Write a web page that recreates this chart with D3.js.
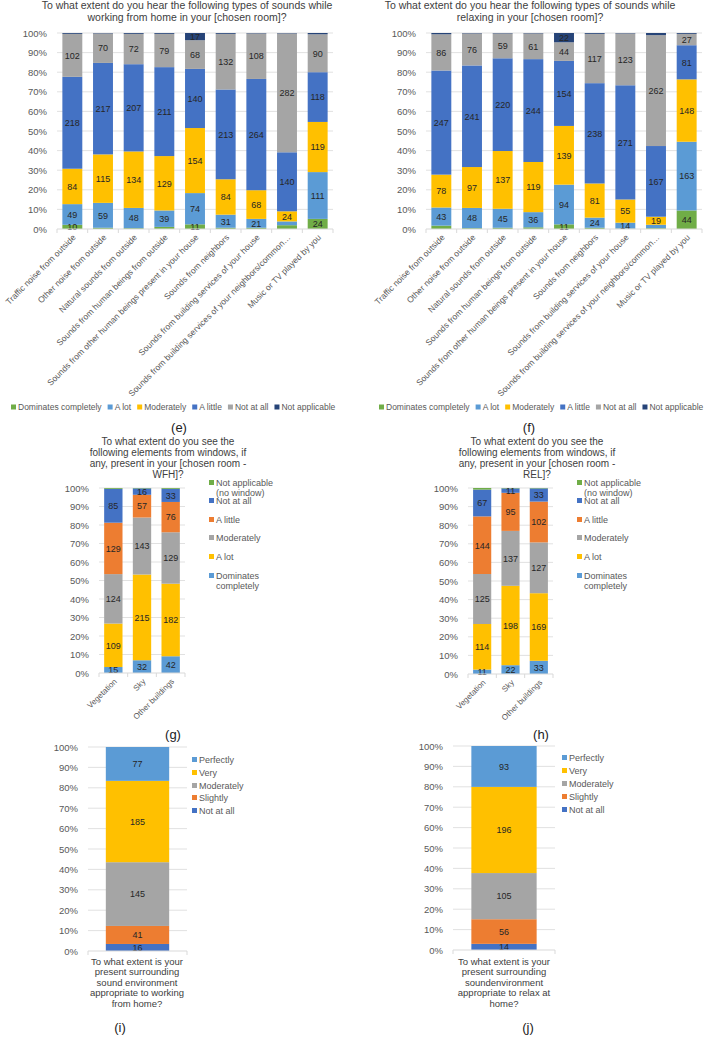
<!DOCTYPE html>
<html lang="en">
<head>
<meta charset="UTF-8">
<title>Sound environment at home</title>
<script src="https://cdn.jsdelivr.net/npm/d3@7"></script>
<style>
  body { margin: 0; background: #fff; }
  svg text { font-family: "Liberation Sans", Arial, sans-serif; }
</style>
</head>
<body>
<script>
// ---- data ----
var soundCats = ["Traffic noise from outside", "Other noise from outside", "Natural sounds from outside",
  "Sounds from human beings from outside", "Sounds from other human beings present in your house",
  "Sounds from neighbors", "Sounds from building services of your house",
  "Sounds from building services of your neighbors/common\u2026", "Music or TV played by you"];
var hearLevels = ["Dominates completely", "A lot", "Moderately", "A little", "Not at all", "Not applicable"];

// (e) working from home
var wfhDominates     = [10, 3, 2, 5, 11, 3, 3, 9, 24];
var wfhALot          = [49, 59, 48, 39, 74, 31, 21, 9, 111];
var wfhModerately    = [84, 115, 134, 129, 154, 84, 68, 24, 119];
var wfhALittle       = [218, 217, 207, 211, 140, 213, 264, 140, 118];
var wfhNotAtAll      = [102, 70, 72, 79, 68, 132, 108, 282, 90];
var wfhNotApplicable = [2, 1, 2, 2, 17, 2, 1, 1, 3];

// (f) relaxing
var relDominates     = [8, 2, 3, 4, 11, 3, 1, 2, 44];
var relALot          = [43, 48, 45, 36, 94, 24, 14, 8, 163];
var relModerately    = [78, 97, 137, 119, 139, 81, 55, 19, 148];
var relALittle       = [247, 241, 220, 244, 154, 238, 271, 167, 81];
var relNotAtAll      = [86, 76, 59, 61, 44, 117, 123, 262, 27];
var relNotApplicable = [3, 1, 1, 1, 22, 2, 1, 5, 2];

// (g)/(h) elements seen from windows
var seeCats = ["Vegetation", "Sky", "Other buildings"];
var seeLevels = ["Dominates completely", "A lot", "Moderately", "A little", "Not at all", "Not applicable (no window)"];
var seeWfhDominates  = [15, 32, 42];
var seeWfhALot       = [109, 215, 182];
var seeWfhModerately = [124, 143, 129];
var seeWfhALittle    = [129, 57, 76];
var seeWfhNotAtAll   = [85, 16, 33];
var seeWfhNoWindow   = [2, 1, 2];
var seeRelDominates  = [11, 22, 33];
var seeRelALot       = [114, 198, 169];
var seeRelModerately = [125, 137, 127];
var seeRelALittle    = [144, 95, 102];
var seeRelNotAtAll   = [67, 11, 33];
var seeRelNoWindow   = [4, 1, 1];

// (i)/(j) appropriateness
var apprLevels = ["Not at all", "Slightly", "Moderately", "Very", "Perfectly"];
var apprWfh = [16, 41, 145, 185, 77];
var apprRel = [14, 56, 105, 196, 93];

var pctTicks = d3.range(0, 1.01, 0.1);

// ---- colours ----
var cGreen = "#70AD47", cLight = "#5B9BD5", cGold = "#FFC000", cBlue = "#4472C4",
    cGray = "#A5A5A5", cNavy = "#264478", cOrange = "#ED7D31";

var svg = d3.select("body").append("svg")
  .attr("width", 708).attr("height", 1037);

function stackPanel(cfg) {
  var g = svg.append("g");
  var keys = cfg.series.map(function (s) { return s.name; });
  var rows = cfg.cats.map(function (c, i) {
    var r = { cat: c };
    cfg.series.forEach(function (s) { r[s.name] = s.vals[i]; });
    return r;
  });
  var layers = d3.stack().keys(keys).offset(d3.stackOffsetExpand)(rows);

  var x = d3.scaleBand().domain(cfg.cats).range([cfg.left, cfg.right])
    .paddingInner(cfg.pad).paddingOuter(cfg.pad / 2);
  var y = d3.scaleLinear().domain([0, 1]).range([cfg.bottom, cfg.top]);

  // gridlines
  g.selectAll("line.grid").data(pctTicks.slice(1)).enter().append("line")
    .attr("x1", cfg.left).attr("x2", cfg.right)
    .attr("y1", function (d) { return y(d); }).attr("y2", function (d) { return y(d); })
    .attr("stroke", "#D9D9D9").attr("stroke-width", 0.8);

  // y axis labels
  var ya = g.append("g").attr("transform", "translate(" + (cfg.left - 7) + ",0)")
    .call(d3.axisLeft(y).tickValues(pctTicks).tickFormat(d3.format(".0%")).tickSize(0));
  ya.select(".domain").remove();
  ya.selectAll("text").attr("font-size", 9.5).attr("fill", "#595959")
    .style("font-family", "Liberation Sans, Arial, sans-serif");

  // bars
  var colors = cfg.series.map(function (s) { return s.color; });
  var lg = g.selectAll("g.layer").data(layers).enter().append("g")
    .attr("fill", function (d, i) { return colors[i]; });
  lg.selectAll("rect").data(function (d) { return d; }).enter().append("rect")
    .attr("x", function (d) { return x(d.data.cat); })
    .attr("width", x.bandwidth())
    .attr("y", function (d) { return y(d[1]); })
    .attr("height", function (d) { return y(d[0]) - y(d[1]); });

  // value labels
  layers.forEach(function (layer) {
    g.selectAll(null).data(layer.filter(function (d) { return d.data[layer.key] >= 10; }))
      .enter().append("text")
      .attr("x", function (d) { return x(d.data.cat) + x.bandwidth() / 2; })
      .attr("y", function (d) { return (y(d[0]) + y(d[1])) / 2 + 3.3; })
      .attr("text-anchor", "middle").attr("font-size", 9).attr("fill", "#262626")
      .text(function (d) { return d.data[layer.key]; });
  });

  // x axis line with category boundary ticks
  g.append("line").attr("x1", cfg.left).attr("x2", cfg.right)
    .attr("y1", cfg.bottom).attr("y2", cfg.bottom).attr("stroke", "#D9D9D9");
  var step = x.step();
  g.selectAll("line.tk").data(d3.range(cfg.cats.length + 1)).enter().append("line")
    .attr("x1", function (i) { return cfg.left + i * step; })
    .attr("x2", function (i) { return cfg.left + i * step; })
    .attr("y1", cfg.bottom).attr("y2", cfg.bottom + 4).attr("stroke", "#D9D9D9");

  // rotated category labels
  if (cfg.rotate) {
    g.selectAll("text.cat").data(cfg.cats).enter().append("text")
      .attr("transform", function (d) {
        return "translate(" + (x(d) + x.bandwidth() / 2 + 4) + "," + (cfg.bottom + 9) + ") rotate(-45)";
      })
      .attr("text-anchor", "end").attr("font-size", cfg.catSize).attr("fill", "#595959")
      .text(function (d) { return d; });
  }
  return { g: g, x: x, y: y };
}

function multiText(lines, cx, y0, lh, size, color) {
  var t = svg.append("text").attr("text-anchor", "middle").attr("font-size", size).attr("fill", color);
  lines.forEach(function (l, i) {
    t.append("tspan").attr("x", cx).attr("y", y0 + i * lh).text(l);
  });
}

function hLegend(names, colors, x0, yy) {
  var x = x0;
  names.forEach(function (n, i) {
    svg.append("rect").attr("x", x).attr("y", yy - 5.5).attr("width", 5).attr("height", 5).attr("fill", colors[i]);
    var t = svg.append("text").attr("x", x + 7).attr("y", yy).attr("font-size", 8.5).attr("fill", "#595959").text(n);
    x += 7 + t.node().getComputedTextLength() + 6;
  });
}

function vLegend(items, colors, x0, ys, lh) {
  items.forEach(function (lines, i) {
    svg.append("rect").attr("x", x0).attr("y", ys[i] - 6).attr("width", 5).attr("height", 5).attr("fill", colors[i]);
    var t = svg.append("text").attr("font-size", 9).attr("fill", "#595959");
    lines.forEach(function (l, j) {
      t.append("tspan").attr("x", x0 + 7).attr("y", ys[i] + j * lh).text(l);
    });
  });
}

function panelTag(txt, x, y) {
  svg.append("text").attr("x", x).attr("y", y).attr("text-anchor", "middle")
    .attr("font-size", 13).attr("fill", "#222").text(txt);
}

var hearColors = [cGreen, cLight, cGold, cBlue, cGray, cNavy];
var seeColors = [cLight, cGold, cGray, cOrange, cBlue, cGreen];
var apprColors = [cBlue, cOrange, cGray, cGold, cLight];
var seeLegendItems = [["Not applicable", "(no window)"], ["Not at all"], ["A little"], ["Moderately"], ["A lot"], ["Dominates", "completely"]];
var apprLegendItems = [["Perfectly"], ["Very"], ["Moderately"], ["Slightly"], ["Not at all"]];

function mk(names, colors, arrs) {
  return names.map(function (n, i) { return { name: n, color: colors[i], vals: arrs[i] }; });
}

// ---- (e) ----
multiText(["To what extent do you hear the following types of sounds while",
  "working from home in your [chosen room]?"], 187, 9, 12, 10.5, "#404040");
stackPanel({ left: 57, right: 333, top: 33, bottom: 229, pad: 0.35, rotate: true, catSize: 8.5,
  cats: soundCats,
  series: mk(hearLevels, hearColors, [wfhDominates, wfhALot, wfhModerately, wfhALittle, wfhNotAtAll, wfhNotApplicable]) });
hLegend(hearLevels, hearColors, 11, 410);
panelTag("(e)", 179, 432);

// ---- (f) ----
multiText(["To what extent do you hear the following types of sounds while",
  "relaxing in your [chosen room]?"], 530, 9, 12, 10.5, "#404040");
stackPanel({ left: 426, right: 702, top: 33, bottom: 229, pad: 0.35, rotate: true, catSize: 8.5,
  cats: soundCats,
  series: mk(hearLevels, hearColors, [relDominates, relALot, relModerately, relALittle, relNotAtAll, relNotApplicable]) });
hLegend(hearLevels, hearColors, 379, 410);
panelTag("(f)", 529, 432);

// ---- (g) ----
multiText(["To what extent do you see the", "following elements from windows, if",
  "any, present in your [chosen room -", "WFH]?"], 168, 445, 11, 10, "#404040");
stackPanel({ left: 99, right: 185, top: 488, bottom: 673, pad: 0.36, rotate: true, catSize: 8,
  cats: seeCats,
  series: mk(seeLevels, seeColors, [seeWfhDominates, seeWfhALot, seeWfhModerately, seeWfhALittle, seeWfhNotAtAll, seeWfhNoWindow]) });
vLegend(seeLegendItems, seeColors.slice().reverse(), 209, [486, 504, 523, 541, 560, 579], 9.5);
panelTag("(g)", 173, 739);

// ---- (h) ----
multiText(["To what extent do you see the", "following elements from windows, if",
  "any, present in your [chosen room -", "REL]?"], 537, 445, 11, 10, "#404040");
stackPanel({ left: 468, right: 553, top: 488, bottom: 674, pad: 0.36, rotate: true, catSize: 8,
  cats: seeCats,
  series: mk(seeLevels, seeColors, [seeRelDominates, seeRelALot, seeRelModerately, seeRelALittle, seeRelNotAtAll, seeRelNoWindow]) });
vLegend(seeLegendItems, seeColors.slice().reverse(), 577, [486, 504, 523, 541, 560, 579], 9.5);
panelTag("(h)", 541, 739);

// ---- (i) ----
var apprSeriesW = apprLevels.map(function (n, i) { return { name: n, color: apprColors[i], vals: [apprWfh[i]] }; });
stackPanel({ left: 88, right: 187, top: 747, bottom: 951, pad: 0.36, rotate: false,
  cats: ["wfh"], series: apprSeriesW });
vLegend(apprLegendItems, apprColors.slice().reverse(), 192, [763, 776, 789, 801, 814], 10);
multiText(["To what extent is your", "present surrounding", "sound environment",
  "appropriate to working", "from home?"], 137, 965, 10.4, 9.5, "#404040");
panelTag("(i)", 120, 1032);

// ---- (j) ----
var apprSeriesR = apprLevels.map(function (n, i) { return { name: n, color: apprColors[i], vals: [apprRel[i]] }; });
stackPanel({ left: 453, right: 555, top: 746, bottom: 950, pad: 0.36, rotate: false,
  cats: ["rel"], series: apprSeriesR });
vLegend(apprLegendItems, apprColors.slice().reverse(), 562, [761, 774, 787, 800, 813], 10);
multiText(["To what extent is your", "present surrounding", "soundenvironment",
  "appropriate to relax at", "home?"], 504, 965, 10.4, 9.5, "#404040");
panelTag("(j)", 528, 1032);
</script>
</body>
</html>
